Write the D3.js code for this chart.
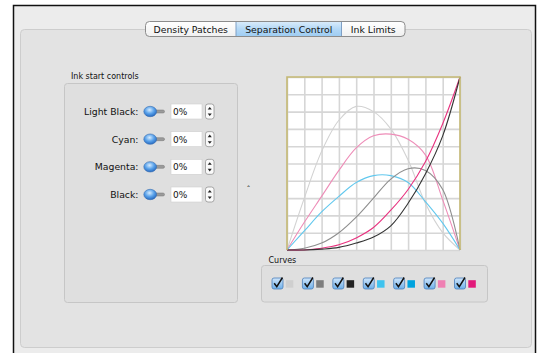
<!DOCTYPE html>
<html>
<head>
<meta charset="utf-8">
<script src="https://cdn.jsdelivr.net/npm/d3@7"></script>
<style>
  body { margin: 0; background: #fff; }
  text { font-family: "DejaVu Sans", sans-serif; fill: #111; }
</style>
</head>
<body>
<div id="chart"></div>
<script>
// tabs + ink rows
var tabs = ['Density Patches', 'Separation Control', 'Ink Limits']
var inks = ['Light Black:', 'Cyan:', 'Magenta:', 'Black:']
var inkStart = ['0%', '0%', '0%', '0%']

// curve data, input 0..1 in steps of 0.1
var levels = [0, 0.1, 0.2, 0.3, 0.4, 0.5, 0.6, 0.7, 0.8, 0.9, 1]
var lightBlackCurve = [0, 0.30, 0.57, 0.75, 0.83, 0.80, 0.70, 0.52, 0.27, 0.10, 0]
var lightMagentaCurve = [0, 0.16, 0.31, 0.46, 0.59, 0.66, 0.67, 0.64, 0.55, 0.29, 0]
var cyanCurve = [0, 0.11, 0.22, 0.31, 0.39, 0.43, 0.43, 0.39, 0.28, 0.155, 0]
var grayCurve = [0, 0.01, 0.04, 0.10, 0.19, 0.30, 0.41, 0.47, 0.46, 0.35, 0]
var magentaCurve = [0, 0, 0.01, 0.03, 0.07, 0.13, 0.23, 0.35, 0.51, 0.73, 1]
var blackCurve = [0, 0, 0.005, 0.015, 0.04, 0.075, 0.14, 0.27, 0.44, 0.66, 1]

var curves = [
  {name: 'lightBlack', values: lightBlackCurve, color: '#d2d2d2'},
  {name: 'lightMagenta', values: lightMagentaCurve, color: '#ee8db8'},
  {name: 'cyan', values: cyanCurve, color: '#62c8ee'},
  {name: 'gray', values: grayCurve, color: '#8e8e8e'},
  {name: 'magenta', values: magentaCurve, color: '#e8327f'},
  {name: 'black', values: blackCurve, color: '#333333'}
]
var swatches = ['#cfcfcf', '#7d7d7d', '#222222', '#3fc3ee', '#00a3de', '#ef80b3', '#e2197a']

var W = 538, H = 353
var svg = d3.select('#chart').append('svg').attr('width', W).attr('height', H)
var defs = svg.append('defs')

var g1 = defs.append('linearGradient').attr('id', 'tabSel').attr('x1', 0).attr('y1', 0).attr('x2', 0).attr('y2', 1)
g1.append('stop').attr('offset', 0).attr('stop-color', '#d8ebfb')
g1.append('stop').attr('offset', 0.5).attr('stop-color', '#b3d8f6')
g1.append('stop').attr('offset', 1).attr('stop-color', '#9fcdf3')
var g2 = defs.append('linearGradient').attr('id', 'tabOff').attr('x1', 0).attr('y1', 0).attr('x2', 0).attr('y2', 1)
g2.append('stop').attr('offset', 0).attr('stop-color', '#ffffff')
g2.append('stop').attr('offset', 1).attr('stop-color', '#f0f0f0')
var g3 = defs.append('radialGradient').attr('id', 'knob').attr('cx', 0.45).attr('cy', 0.35).attr('r', 0.7)
g3.append('stop').attr('offset', 0).attr('stop-color', '#d6ecff')
g3.append('stop').attr('offset', 0.5).attr('stop-color', '#5aa2ea')
g3.append('stop').attr('offset', 1).attr('stop-color', '#1d5fb8')
var g4 = defs.append('linearGradient').attr('id', 'cbox').attr('x1', 0).attr('y1', 0).attr('x2', 0).attr('y2', 1)
g4.append('stop').attr('offset', 0).attr('stop-color', '#cfe5fa')
g4.append('stop').attr('offset', 1).attr('stop-color', '#6fb0ea')

// window + panel
svg.append('rect').attr('x', 13.5).attr('y', 5.5).attr('width', 522).attr('height', 360)
  .attr('fill', '#ececec').attr('stroke', '#111').attr('stroke-width', 1.5)
svg.append('rect').attr('x', 20.5).attr('y', 29.5).attr('width', 511).attr('height', 318).attr('rx', 4)
  .attr('fill', '#e3e3e3').attr('stroke', '#cdcdcd')

// segmented tab control
var tabEdges = [145.5, 236, 341.5, 405]
var tabG = svg.append('g')
tabG.append('rect').attr('x', tabEdges[0]).attr('y', 21.5).attr('width', tabEdges[3] - tabEdges[0]).attr('height', 15)
  .attr('rx', 4).attr('fill', 'url(#tabOff)')
tabG.append('rect').attr('x', tabEdges[1]).attr('y', 22).attr('width', tabEdges[2] - tabEdges[1]).attr('height', 14)
  .attr('fill', 'url(#tabSel)')
tabG.append('rect').attr('x', tabEdges[0]).attr('y', 21.5).attr('width', tabEdges[3] - tabEdges[0]).attr('height', 15)
  .attr('rx', 4).attr('fill', 'none').attr('stroke', '#8c8c8c')
;[1, 2].forEach(function(i){
  tabG.append('line').attr('x1', tabEdges[i]).attr('x2', tabEdges[i]).attr('y1', 22).attr('y2', 36)
    .attr('stroke', '#7f9fc4')
})
tabs.forEach(function(t, i){
  tabG.append('text').attr('x', (tabEdges[i] + tabEdges[i + 1]) / 2).attr('y', 32.5)
    .attr('text-anchor', 'middle').style('font-size', '9.3px').text(t)
})

// ink start controls group
svg.append('text').attr('x', 71).attr('y', 79).style('font-size', '8px').text('Ink start controls')
svg.append('rect').attr('x', 64.5).attr('y', 83.5).attr('width', 173).attr('height', 219).attr('rx', 3)
  .attr('fill', '#dfdfdf').attr('stroke', '#c6c6c6')

var rowY = d3.scalePoint().domain(inks).range([111.5, 194.5])
var rows = svg.selectAll('g.row').data(inks).join('g').attr('class', 'row')
  .attr('transform', function(d){ return 'translate(0,' + rowY(d) + ')' })
rows.append('text').attr('x', 138.5).attr('y', 3.5).attr('text-anchor', 'end').style('font-size', '9.3px')
  .text(function(d){ return d })
rows.append('rect').attr('x', 152).attr('y', -1.5).attr('width', 12.5).attr('height', 3).attr('rx', 1.5)
  .attr('fill', '#9a9a9a').attr('stroke', '#777').attr('stroke-width', 0.5)
rows.append('ellipse').attr('cx', 150.2).attr('cy', 0).attr('rx', 6.4).attr('ry', 5.2)
  .attr('fill', 'url(#knob)').attr('stroke', '#3a6fb0').attr('stroke-width', 0.6)
rows.append('rect').attr('x', 171).attr('y', -7.5).attr('width', 31).attr('height', 15)
  .attr('fill', '#fff').attr('stroke', '#d0d0d0').attr('stroke-width', 0.6)
rows.append('text').attr('x', 173).attr('y', 3.5).style('font-size', '9px')
  .text(function(d, i){ return inkStart[i] })
rows.append('rect').attr('x', 205.5).attr('y', -7.5).attr('width', 8.5).attr('height', 15).attr('rx', 2.5)
  .attr('fill', '#fafafa').attr('stroke', '#888').attr('stroke-width', 0.7)
rows.append('path').attr('d', 'M207.7,-2 L209.75,-4.6 L211.8,-2 Z M207.7,2 L209.75,4.6 L211.8,2 Z').attr('fill', '#222')

svg.append('text').attr('x', 246.5).attr('y', 193).style('font-size', '8px').text('ˆ')

// curve plot
var x = d3.scaleLinear().domain([0, 1]).range([287, 460])
var y = d3.scaleLinear().domain([0, 1]).range([250, 77])
svg.append('rect').attr('x', x(0)).attr('y', y(1)).attr('width', x(1) - x(0)).attr('height', y(0) - y(1))
  .attr('fill', '#fff')

svg.append('g').attr('transform', 'translate(0,' + y(0) + ')')
  .call(d3.axisBottom(x).tickValues(levels).tickSize(-(y(0) - y(1))).tickFormat(''))
svg.append('g').attr('transform', 'translate(' + x(0) + ',0)')
  .call(d3.axisLeft(y).tickValues(levels).tickSize(-(x(1) - x(0))).tickFormat(''))
svg.selectAll('.domain').remove()
svg.selectAll('.tick line').attr('stroke', '#d6d6d6').attr('stroke-width', 1.6)

var line = d3.line()
  .x(function(d, i){ return x(levels[i]) })
  .y(function(d){ return y(Math.max(0, d)) })
  .curve(d3.curveCatmullRom.alpha(0.5))
svg.append('g').selectAll('path').data(curves).join('path')
  .attr('d', function(d){ return line(d.values) })
  .attr('fill', 'none').attr('stroke', function(d){ return d.color }).attr('stroke-width', 1.1)

svg.append('path')
  .attr('d', 'M' + x(0) + ',' + y(0) + 'V' + y(1) + 'H' + x(1) + 'V' + y(0))
  .attr('fill', 'none').attr('stroke', '#c5b974').attr('stroke-width', 1.6)

// curves legend box
svg.append('text').attr('x', 268.5).attr('y', 263).style('font-size', '8px').text('Curves')
svg.append('rect').attr('x', 261.5).attr('y', 265.5).attr('width', 226).attr('height', 36.5).attr('rx', 3)
  .attr('fill', '#dfdfdf').attr('stroke', '#c6c6c6')

var legX = d3.scalePoint().domain(d3.range(swatches.length)).range([272, 454.5])
var leg = svg.selectAll('g.leg').data(swatches).join('g').attr('class', 'leg')
  .attr('transform', function(d, i){ return 'translate(' + legX(i) + ',278)' })
leg.append('rect').attr('x', 0).attr('y', 0).attr('width', 11).attr('height', 11).attr('rx', 2)
  .attr('fill', 'url(#cbox)').attr('stroke', '#4a7fba').attr('stroke-width', 0.8)
leg.append('path').attr('d', 'M2.2,5.2 L4.8,8.6 L10.5,-0.5').attr('fill', 'none')
  .attr('stroke', '#111').attr('stroke-width', 1.5)
leg.append('rect').attr('x', 13.8).attr('y', 2.2).attr('width', 7.5).attr('height', 7.5)
  .attr('fill', function(d){ return d })
</script>
</body>
</html>
